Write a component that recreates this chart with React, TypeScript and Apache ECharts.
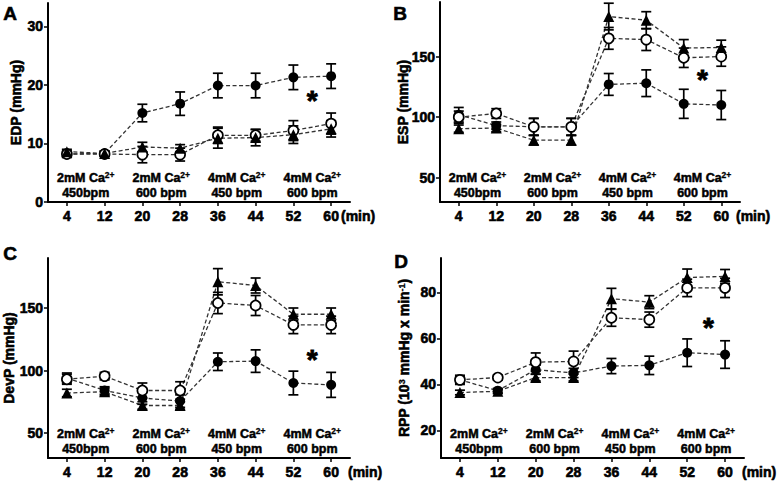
import React, { useEffect, useRef } from "react";
import * as echarts from "echarts";

const minutes = [4, 12, 20, 28, 36, 44, 52, 60];

const phaseCenters = [8, 24, 40, 56];
const phaseCa = ["2mM Ca", "2mM Ca", "4mM Ca", "4mM Ca"];
const phaseRate = ["450bpm", "600 bpm", "450 bpm", "600 bpm"];

// Panel A: EDP (mmHg)
const edpFilled = [8.2, 8.3, 15.2, 16.8, 19.9, 19.9, 21.3, 21.5];
const edpFilledErr = [0.6, 0.4, 1.5, 2.0, 2.1, 2.1, 2.1, 2.1];
const edpOpen = [8.2, 8.2, 8.1, 8.1, 11.4, 11.4, 12.2, 13.4];
const edpOpenErr = [0.4, 0.4, 1.4, 1.1, 1.4, 1.0, 1.7, 1.8];
const edpTri = [8.6, 8.3, 9.4, 9.2, 10.9, 11.0, 11.5, 12.5];
const edpTriErr = [0.4, 0.4, 0.8, 0.6, 1.7, 1.4, 1.5, 1.4];

// Panel B: ESP (mmHg)
const espFilled = [102, 93, 92, 92, 127, 128, 111, 110];
const espFilledErr = [6, 3, 7, 7, 9, 11, 12, 12];
const espOpen = [100, 103, 92, 92, 165, 164, 149, 150];
const espOpenErr = [5, 4, 7, 7, 9, 9, 8, 8];
const espTri = [90.5, 91, 81, 81, 183, 180, 157, 157.5];
const espTriErr = [3, 3, 4, 4, 11, 7, 7, 6];

// Panel C: DevP (mmHg)
const devFilled = [94, 84, 78, 75.5, 107, 107.5, 90, 88.5];
const devFilledErr = [4, 3, 5, 5, 7, 9, 9.5, 10];
const devOpen = [93, 95.5, 84, 84, 154, 152, 136.5, 136.5];
const devOpenErr = [4, 3, 6, 7, 8.5, 8, 7, 7];
const devTri = [82, 83, 72, 72, 171, 168, 145, 145];
const devTriErr = [3, 3, 3, 3, 10.5, 6, 5, 5];

// Panel D: RPP (10^3 mmHg x min^-1)
const rppFilled = [42, 37.3, 46.4, 45, 48, 48.3, 53.8, 53];
const rppFilledErr = [2, 1, 2, 2, 3.3, 4, 6, 6];
const rppOpen = [42, 43, 49.7, 50, 69, 68.2, 82, 82];
const rppOpenErr = [1.5, 1, 4, 4.5, 3.7, 3.3, 3.8, 4.2];
const rppTri = [36.5, 37, 43, 43, 77.3, 75.8, 86.5, 87];
const rppTriErr = [1, 1, 1.5, 1.5, 4.5, 2.8, 3.7, 3];

const yTicksA = [0, 10, 20, 30];
const yTicksB = [50, 100, 150];
const yTicksC = [50, 100, 150];
const yTicksD = [20, 40, 60, 80];

const starX = [56, 56, 56, 56.5];
const starY = [18.5, 136.5, 114.5, 68];

const letters = ["A", "B", "C", "D"];

const fontFamily = "'Liberation Sans', Arial, Helvetica, sans-serif";
const ink = "#000";

const panels = [
  {
    yName: "EDP (mmHg)", yMin: 0, yMax: 34, yTicks: yTicksA,
    grid: [48, 3, 302, 199], nameGap: 25, minGap: -9, letterPos: [3, 4],
    filled: edpFilled, filledErr: edpFilledErr, open: edpOpen, openErr: edpOpenErr, tri: edpTri, triErr: edpTriErr,
  },
  {
    yName: "ESP (mmHg)", yMin: 30, yMax: 195, yTicks: yTicksB,
    grid: [440, 2, 300, 200], nameGap: 30, minGap: -4, letterPos: [393, 4],
    filled: espFilled, filledErr: espFilledErr, open: espOpen, openErr: espOpenErr, tri: espTri, triErr: espTriErr,
  },
  {
    yName: "DevP (mmHg)", yMin: 30, yMax: 190, yTicks: yTicksC,
    grid: [48, 258, 302, 200], nameGap: 32, minGap: -2, letterPos: [3, 244],
    filled: devFilled, filledErr: devFilledErr, open: devOpen, openErr: devOpenErr, tri: devTri, triErr: devTriErr,
  },
  {
    yName: "RPP (10{sup|3} mmHg x min{sup|-1})", yMin: 8, yMax: 95, yTicks: yTicksD,
    grid: [441, 258, 303, 200], nameGap: 30, minGap: -2, letterPos: [394, 252],
    filled: rppFilled, filledErr: rppFilledErr, open: rppOpen, openErr: rppOpenErr, tri: rppTri, triErr: rppTriErr,
  },
];

const heavy = { textBorderColor: ink, textBorderWidth: 0.6 };
const boldText = { color: ink, fontSize: 14, fontWeight: "bold" as const, fontFamily, ...heavy };

function errorRender(params: any, api: any) {
  const x = api.value(0);
  const lo = api.value(1);
  const hi = api.value(2);
  const pHi = api.coord([x, hi]);
  const pLo = api.coord([x, lo]);
  const w = 5;
  const style = { stroke: "#000", lineWidth: 1.7 };
  return {
    type: "group",
    children: [
      { type: "line", shape: { x1: pHi[0], y1: pHi[1], x2: pLo[0], y2: pLo[1] }, style },
      { type: "line", shape: { x1: pHi[0] - w, y1: pHi[1], x2: pHi[0] + w, y2: pHi[1] }, style },
      { type: "line", shape: { x1: pLo[0] - w, y1: pLo[1], x2: pLo[0] + w, y2: pLo[1] }, style },
    ],
  };
}

function buildOption() {
  const grid: any[] = [];
  const xAxis: any[] = [];
  const yAxis: any[] = [];
  const series: any[] = [];

  panels.forEach((p, i) => {
    grid.push({
      left: p.grid[0], top: p.grid[1], width: p.grid[2], height: p.grid[3],
      containLabel: false, outerBoundsMode: "none",
    });
    xAxis.push({
      type: "value", gridIndex: i, min: 0, max: 64,
      axisLine: { show: true, onZero: false, lineStyle: { color: ink, width: 2 } },
      axisTick: { show: true, customValues: minutes, length: 4, lineStyle: { color: ink, width: 1.5 } },
      axisLabel: { show: true, customValues: minutes, margin: 7, ...boldText },
      splitLine: { show: false },
      name: "(min)", nameLocation: "end", nameGap: p.minGap, nameMoveOverlap: false,
      nameTextStyle: { ...boldText, align: "left", verticalAlign: "top", padding: [7, 0, 0, 0] },
    });
    yAxis.push({
      type: "value", gridIndex: i, min: p.yMin, max: p.yMax,
      axisLine: { show: true, onZero: false, lineStyle: { color: ink, width: 2 } },
      axisTick: { show: true, customValues: p.yTicks, length: 4, lineStyle: { color: ink, width: 1.5 } },
      axisLabel: { show: true, customValues: p.yTicks, margin: 5, ...boldText },
      splitLine: { show: false },
      name: p.yName, nameLocation: "middle", nameGap: p.nameGap, nameMoveOverlap: false,
      nameTextStyle: {
        ...boldText,
        rich: { sup: { fontSize: 9, fontWeight: "bold", fontFamily, color: ink, verticalAlign: "top", ...heavy, textBorderWidth: 0.3 } },
      },
    });

    const groups = [
      { vals: p.filled, errs: p.filledErr, symbol: "circle", fill: "#000" },
      { vals: p.open, errs: p.openErr, symbol: "circle", fill: "#fff" },
      { vals: p.tri, errs: p.triErr, symbol: "triangle", fill: "#000" },
    ];

    groups.forEach((g) => {
      series.push({
        type: "line", xAxisIndex: i, yAxisIndex: i, z: 2, silent: true,
        showSymbol: false, symbol: "none",
        data: minutes.map((m, j) => [m, g.vals[j]]),
        lineStyle: { color: "#333", width: 1.3, type: [4, 2.5] },
      });
    });

    series.push({
      type: "custom", xAxisIndex: i, yAxisIndex: i, z: 3, silent: true,
      renderItem: errorRender,
      encode: { x: 0, y: [1, 2] },
      data: groups.flatMap((g) => minutes.map((m, j) => [m, g.vals[j] - g.errs[j], g.vals[j] + g.errs[j]])),
    });

    groups.forEach((g) => {
      series.push({
        type: "scatter", xAxisIndex: i, yAxisIndex: i, z: 4, silent: true,
        symbol: g.symbol, symbolSize: g.symbol === "triangle" ? 11 : 10,
        data: minutes.map((m, j) => [m, g.vals[j]]),
        itemStyle: { color: g.fill, borderColor: "#000", borderWidth: g.fill === "#fff" ? 1.7 : 0, opacity: 1 },
      });
    });

    series.push({
      type: "scatter", xAxisIndex: i, yAxisIndex: i, z: 6, silent: true,
      symbolSize: 0, clip: false,
      itemStyle: { color: ink, opacity: 1 },
      data: phaseCenters.map((c, k) => ({
        value: [c, p.yMin],
        label: { formatter: `{b|${phaseCa[k]}}{sup|2+}\n{b|${phaseRate[k]}}` },
      })),
      label: {
        show: true, position: [0, 0], offset: [0, -16.5], align: "center", verticalAlign: "middle", lineHeight: 15,
        color: ink, opacity: 1, textBorderColor: ink, textBorderWidth: 0.5,
        rich: {
          b: { fontSize: 12.5, fontWeight: "bold", fontFamily, color: ink, opacity: 1, lineHeight: 15, ...heavy, textBorderWidth: 0.5 },
          sup: { fontSize: 8.5, fontWeight: "bold", fontFamily, color: ink, opacity: 1, verticalAlign: "top", lineHeight: 15, ...heavy, textBorderWidth: 0.3 },
        },
      },
    });

    series.push({
      type: "scatter", xAxisIndex: i, yAxisIndex: i, z: 6, silent: true,
      symbolSize: 0, clip: false,
      itemStyle: { color: ink, opacity: 1 },
      data: [[starX[i], starY[i]]],
      label: {
        show: true, position: [0, 0], offset: [0, 7], align: "center", verticalAlign: "middle", opacity: 1,
        formatter: "*", fontSize: 28, fontWeight: "bold", fontFamily, color: ink, ...heavy, textBorderWidth: 0.8,
      },
    });
  });

  const graphic = panels.map((p, i) => ({
    type: "text", left: p.letterPos[0], top: p.letterPos[1],
    style: { text: letters[i], fontSize: 19, fontWeight: "bold", fontFamily, fill: ink, stroke: ink, lineWidth: 0.6 },
  }));

  return {
    animation: false,
    backgroundColor: "#fff",
    grid, xAxis, yAxis, series, graphic,
  };
}

export default function App() {
  const ref = useRef<HTMLDivElement>(null);
  useEffect(() => {
    const chart = echarts.init(ref.current!, null, { renderer: "svg" });
    chart.setOption(buildOption() as any);
    return () => chart.dispose();
  }, []);
  return (
    <div
      ref={ref}
      style={{ position: "fixed", left: 0, top: 0, width: 777, height: 481, background: "#fff" }}
    />
  );
}
